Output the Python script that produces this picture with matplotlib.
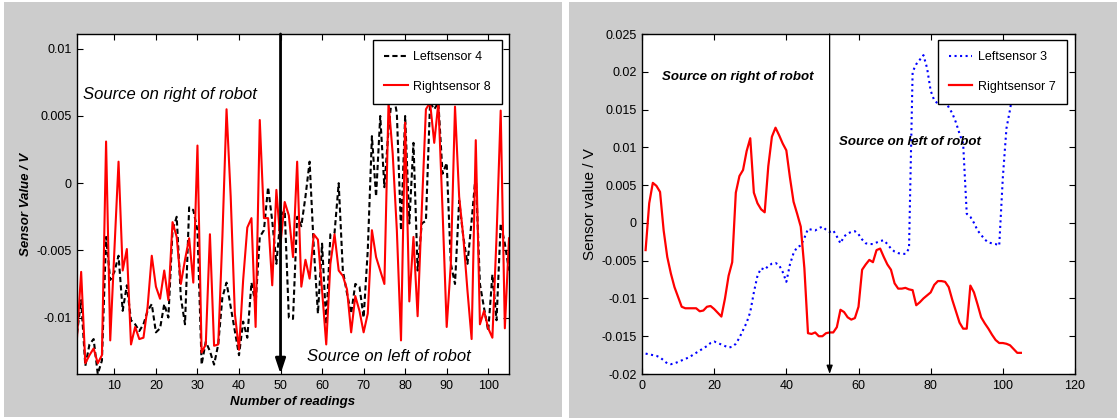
import matplotlib
matplotlib.use("Agg")
import matplotlib.pyplot as plt
from matplotlib.patches import Rectangle
from matplotlib.ticker import FormatStrFormatter

plt.rcParams['font.family'] = ['Liberation Sans', 'DejaVu Sans']

# ── Left experiment: Leftsensor 4 / Rightsensor 8 (readings 1..105) ──────────
readings_left = list(range(1, 106))
leftsensor_4 = [
    -0.0112, -0.0087, -0.0136, -0.0120, -0.0116, -0.0142, -0.0132, -0.0040, -0.0072, -0.0066,
    -0.0054, -0.0095, -0.0076, -0.0102, -0.0105, -0.0110, -0.0105, -0.0095, -0.0090, -0.0111,
    -0.0108, -0.0090, -0.0100, -0.0035, -0.0025, -0.0085, -0.0105, -0.0018, -0.0020, -0.0035,
    -0.0135, -0.0118, -0.0125, -0.0135, -0.0120, -0.0085, -0.0074, -0.0092, -0.0110, -0.0128,
    -0.0103, -0.0115, -0.0074, -0.0090, -0.0040, -0.0035, -0.0003, -0.0028, -0.0060, -0.0025,
    -0.0020, -0.0100, -0.0101, -0.0025, -0.0032, -0.0010, 0.0016, -0.0048, -0.0097, -0.0045,
    -0.0105, -0.0038, -0.0037, 0.0000, -0.0065, -0.0082, -0.0097, -0.0075, -0.0077, -0.0100,
    -0.0050, 0.0035, -0.0010, 0.0050, -0.0003, 0.0040, 0.0070, 0.0052, -0.0035, 0.0050,
    -0.0030, 0.0030, -0.0065, -0.0030, -0.0028, 0.0060, 0.0055, 0.0060, 0.0007, 0.0015,
    -0.0060, -0.0075, -0.0013, -0.0040, -0.0060, -0.0028, 0.0007, -0.0075, -0.0093, -0.0110,
    -0.0068, -0.0102, -0.0030, -0.0045, -0.0065,
]
rightsensor_8 = [
    -0.0115, -0.0066, -0.0134, -0.0128, -0.0123, -0.0134, -0.0128, 0.0031, -0.0117, -0.0050,
    0.0016, -0.0065, -0.0049, -0.0120, -0.0107, -0.0116, -0.0115, -0.0092, -0.0054, -0.0077,
    -0.0086, -0.0065, -0.0087, -0.0029, -0.0040, -0.0075, -0.0057, -0.0041, -0.0074, 0.0028,
    -0.0126, -0.0120, -0.0038, -0.0121, -0.0120, -0.0040, 0.0055, -0.0010, -0.0097, -0.0124,
    -0.0072, -0.0033, -0.0026, -0.0107, 0.0047, -0.0026, -0.0026, -0.0076, -0.0005, -0.0045,
    -0.0014, -0.0024, -0.0055, 0.0016, -0.0077, -0.0057, -0.0071, -0.0038, -0.0042, -0.0080,
    -0.0120, -0.0060, -0.0038, -0.0065, -0.0069, -0.0079, -0.0111, -0.0084, -0.0095, -0.0111,
    -0.0097, -0.0035, -0.0055, -0.0065, -0.0075, 0.0060, 0.0022, -0.0035, -0.0117, 0.0045,
    -0.0088, -0.0040, -0.0099, -0.0020, 0.0055, 0.0060, 0.0030, 0.0060, -0.0020, -0.0107,
    -0.0060, 0.0057, -0.0010, -0.0040, -0.0080, -0.0116, 0.0032, -0.0105, -0.0095, -0.0108,
    -0.0115, -0.0040, 0.0054, -0.0108, -0.0041,
]

# ── Right experiment: Leftsensor 3 / Rightsensor 7 ───────────────────────────
readings_right = list(range(1, 106))
leftsensor_3 = [
    -0.0173, -0.0174, -0.0175, -0.0176, -0.0178, -0.0182, -0.0186, -0.0187, -0.0186, -0.0184,
    -0.0182, -0.0180, -0.0178, -0.0175, -0.0172, -0.0169, -0.0166, -0.0163, -0.0159, -0.0157,
    -0.0159, -0.0161, -0.0163, -0.0165, -0.0164, -0.0160, -0.0152, -0.0142, -0.0132, -0.0118,
    -0.0092, -0.0070, -0.0060, -0.0062, -0.0057, -0.0054, -0.0053, -0.0056, -0.0065, -0.0078,
    -0.0055, -0.0040, -0.0032, -0.0030, -0.0020, -0.0008, -0.0009, -0.0010, -0.0007, -0.0005,
    -0.0009, -0.0012, -0.0010, -0.0018, -0.0027, -0.0018, -0.0014, -0.0012, -0.0011, -0.0015,
    -0.0022, -0.0027, -0.0028, -0.0028, -0.0026, -0.0024, -0.0023, -0.0028, -0.0034, -0.0038,
    -0.0040, -0.0041, -0.0041, -0.0034, 0.0200, 0.0210, 0.0216, 0.0222, 0.0205, 0.0175,
    0.0162, 0.0158, 0.0160, 0.0162, 0.0153, 0.0145, 0.0133, 0.0118, 0.0105, 0.0012,
    0.0008, 0.0000, -0.0010, -0.0016, -0.0022, -0.0026, -0.0027, -0.0028, -0.0030, 0.0060,
    0.0125, 0.0150, 0.0180, 0.0200, 0.0215,
]
rightsensor_7 = [
    -0.0036, 0.0026, 0.0053, 0.0049, 0.0041, -0.0010, -0.0045, -0.0067, -0.0085, -0.0098,
    -0.0111, -0.0113, -0.0113, -0.0113, -0.0113, -0.0117, -0.0116, -0.0111, -0.0110, -0.0114,
    -0.0119, -0.0124, -0.0100, -0.0070, -0.0052, 0.0040, 0.0062, 0.0070, 0.0095, 0.0112,
    0.0040, 0.0026, 0.0018, 0.0014, 0.0075, 0.0114, 0.0126, 0.0116, 0.0105, 0.0096,
    0.0060, 0.0028, 0.0012, -0.0005, -0.0060, -0.0146, -0.0147, -0.0145, -0.0150, -0.0150,
    -0.0146, -0.0145, -0.0145, -0.0138, -0.0115, -0.0118, -0.0125, -0.0128, -0.0126, -0.0111,
    -0.0062, -0.0055, -0.0049, -0.0052, -0.0036, -0.0034, -0.0045, -0.0055, -0.0062, -0.0080,
    -0.0087, -0.0087, -0.0086, -0.0088, -0.0089, -0.0109, -0.0105, -0.0100, -0.0096, -0.0092,
    -0.0082, -0.0077, -0.0077, -0.0078, -0.0085, -0.0102, -0.0117, -0.0132, -0.0140, -0.0140,
    -0.0083, -0.0092, -0.0108, -0.0125, -0.0133, -0.0140, -0.0148, -0.0155, -0.0159, -0.0159,
    -0.0160, -0.0162, -0.0167, -0.0172, -0.0172,
]

left_xticks = list(range(10, 101, 10))
left_yticks = [-0.01, -0.005, 0, 0.005, 0.01]
right_xticks = list(range(0, 121, 20))
right_yticks = [-0.02, -0.015, -0.01, -0.005, 0, 0.005, 0.01, 0.015, 0.02, 0.025]

W, H = 1117, 419
GRAY = '#cccccc'


def px_rect(x0, y0, x1, y1):
    """Pixel box (top-left origin) -> figure fraction [left, bottom, width, height]."""
    return [x0 / W, 1 - y1 / H, (x1 - x0) / W, (y1 - y0) / H]


def style_axes(ax):
    ax.tick_params(direction='in', top=True, right=True, length=4, width=0.8,
                   labelsize=9, pad=4)
    for sp in ax.spines.values():
        sp.set_linewidth(1.0)
        sp.set_color('black')


fig = plt.figure(figsize=(W / 100, H / 100), dpi=100, facecolor='white')

# gray panel backgrounds
for box in [(4, 2, 562, 417), (569, 2, 1117, 418)]:
    l, b, w, h = px_rect(*box)
    fig.patches.append(Rectangle((l, b), w, h, transform=fig.transFigure,
                                 facecolor=GRAY, edgecolor='none', zorder=-10))

# ── Left panel ────────────────────────────────────────────────────────────────
ax1 = fig.add_axes(px_rect(77, 34, 509, 374))
ax1.plot(readings_left, leftsensor_4, color='black', lw=1.5,
         linestyle=(0, (2.5, 1.5)), label='Leftsensor 4')
ax1.plot(readings_left, rightsensor_8, color='red', lw=1.5, label='Rightsensor 8')
ax1.set_xlim(1, 105)
ax1.set_ylim(-0.0142, 0.0111)
ax1.set_xticks(left_xticks)
ax1.set_yticks(left_yticks)
ax1.yaxis.set_major_formatter(FormatStrFormatter('%g'))
style_axes(ax1)
ax1.set_xlabel('Number of readings', fontsize=9.5, fontweight='bold',
               fontstyle='italic', labelpad=3)
ax1.set_ylabel('Sensor Value / V', fontsize=9.5, fontweight='bold',
               fontstyle='italic', labelpad=3)
ax1.annotate('', xy=(50, -0.0142), xytext=(50, 0.0111),
             arrowprops=dict(arrowstyle='-|>,head_length=0.45,head_width=0.15',
                             lw=2, color='black', mutation_scale=20,
                             shrinkA=0, shrinkB=0))
ax1.text(2.5, 0.0066, 'Source on right of robot', fontsize=12,
         fontstyle='italic', ha='left', va='center')
ax1.text(56.3, -0.0129, 'Source on left of robot', fontsize=12,
         fontstyle='italic', ha='left', va='center')
ax1.legend(loc='upper right', bbox_to_anchor=(0.984, 0.982), borderaxespad=0,
           fontsize=9, fancybox=False, framealpha=1, edgecolor='black',
           borderpad=0.9, labelspacing=1.4, handlelength=1.85,
           handletextpad=0.45).get_frame().set_linewidth(1.0)

# ── Right panel ───────────────────────────────────────────────────────────────
ax2 = fig.add_axes(px_rect(642, 34, 1075, 374))
ax2.plot(readings_right, leftsensor_3, color='blue', lw=1.5, linestyle=':',
         label='Leftsensor 3')
ax2.plot(readings_right, rightsensor_7, color='red', lw=1.6, label='Rightsensor 7')
ax2.set_xlim(0, 120)
ax2.set_ylim(-0.02, 0.025)
ax2.set_xticks(right_xticks)
ax2.set_yticks(right_yticks)
ax2.yaxis.set_major_formatter(FormatStrFormatter('%g'))
style_axes(ax2)
ax2.set_ylabel('Sensor value / V', fontsize=11, labelpad=3)
ax2.annotate('', xy=(52, -0.02), xytext=(52, 0.025),
             arrowprops=dict(arrowstyle='-|>,head_length=0.5,head_width=0.18',
                             lw=0.9, color='black', mutation_scale=10,
                             shrinkA=0, shrinkB=0))
ax2.text(5.5, 0.0193, 'Source on right of robot', fontsize=9.5,
         fontweight='bold', fontstyle='italic', ha='left', va='center')
ax2.text(54.6, 0.0107, 'Source on left of robot', fontsize=9.5,
         fontweight='bold', fontstyle='italic', ha='left', va='center')
ax2.legend(loc='upper right', bbox_to_anchor=(0.9815, 0.982), borderaxespad=0,
           fontsize=9, fancybox=False, framealpha=1, edgecolor='black',
           borderpad=0.9, labelspacing=1.4, handlelength=1.85,
           handletextpad=0.45).get_frame().set_linewidth(1.0)

fig.savefig('out.png', dpi=100, facecolor='white')
